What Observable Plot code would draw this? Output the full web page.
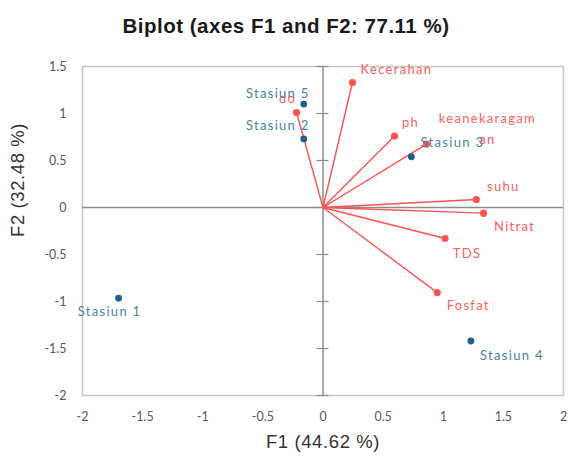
<!DOCTYPE html>
<html>
<head>
<meta charset="utf-8">
<script src="https://cdn.jsdelivr.net/npm/d3@7"></script>
<script src="https://cdn.jsdelivr.net/npm/@observablehq/plot@0.6"></script>
<style>
  html, body { margin: 0; padding: 0; background: #fff; }
  .lbl text { letter-spacing: 1.3px; }
  .ttl text { letter-spacing: 0.5px; }
  .axl text { letter-spacing: 0.6px; }
</style>
</head>
<body>
<div id="chart"></div>
<script>
// Active variables (loadings, red vectors)
const varNames = ["do", "Kecerahan", "ph", "keanekaragam\nan", "suhu", "Nitrat", "TDS", "Fosfat"];
const varF1 = [-0.22, 0.245, 0.595, 0.86, 1.275, 1.335, 1.015, 0.95];
const varF2 = [1.01, 1.33, 0.76, 0.675, 0.085, -0.06, -0.33, -0.905];

// Observations (blue points)
const obsNames = ["Stasiun 1", "Stasiun 2", "Stasiun 3", "Stasiun 4", "Stasiun 5"];
const obsF1 = [-1.70, -0.16, 0.735, 1.23, -0.16];
const obsF2 = [-0.965, 0.73, 0.54, -1.42, 1.10];

// Tick values
const xTicks = [-2, -1.5, -1, -0.5, 0, 0.5, 1, 1.5, 2];
const yTicks = [-2, -1.5, -1, -0.5, 0, 0.5, 1, 1.5];

const titleText = "Biplot (axes F1 and F2: 77.11 %)";
const xLabel = "F1 (44.62 %)";
const yLabel = "F2 (32.48 %)";

// label placement (layout only, pixels)
const labelOffset = {
  "do": [-9, -16],
  "Kecerahan": [44, -15],
  "ph": [16, -16],
  "keanekaragam\nan": [61, -17],
  "suhu": [27, -15],
  "Nitrat": [31, 11],
  "TDS": [22, 13],
  "Fosfat": [31, 11],
  "Stasiun 1": [-9, 11],
  "Stasiun 2": [-26, -16],
  "Stasiun 3": [41, -16],
  "Stasiun 4": [41, 12],
  "Stasiun 5": [-26, -13]
};

const vars = varNames.map((n, i) => ({name: n, x: varF1[i], y: varF2[i]}));
const obs = obsNames.map((n, i) => ({name: n, x: obsF1[i], y: obsF2[i]}));

const RED = "#ff5252";
const RED_TXT = "#ff5e5e";
const BLUE = "#1f5f8b";
const BLUE_TXT = "#4a82a8";
const fmt = d => String(d);

const labelMarks = (data, fill) =>
  data.map(d => Plot.text([d], {
    x: "x", y: "y", text: "name",
    dx: labelOffset[d.name][0], dy: labelOffset[d.name][1],
    fill, fontFamily: "Lato", fontSize: 13,
    lineHeight: 1.6, textAnchor: "middle", lineAnchor: "middle",
    className: "lbl"
  }));

const chart = Plot.plot({
  width: 570,
  height: 457,
  marginLeft: 82,
  marginRight: 7,
  marginTop: 66,
  marginBottom: 62,
  style: {fontFamily: "Lato", fontSize: "12px", color: "#595959", background: "#fff"},
  x: {domain: [-2, 2], ticks: xTicks, tickFormat: fmt},
  y: {domain: [-2, 1.5], ticks: yTicks, tickFormat: fmt},
  marks: [
    Plot.axisX({ticks: xTicks, tickFormat: fmt, tickSize: 0, tickPadding: 17, label: null, fill: "#595959", fontSize: 12.5}),
    Plot.axisY({ticks: yTicks, tickFormat: fmt, tickSize: 0, tickPadding: 16, label: null, fill: "#595959", fontSize: 12.5}),
    Plot.frame({stroke: "#c6c6c6", strokeWidth: 1.5}),
    Plot.ruleX([0], {stroke: "#8c8c8c", strokeWidth: 1.5}),
    Plot.ruleY([0], {stroke: "#8c8c8c", strokeWidth: 1.5}),
    Plot.ruleY(yTicks, {y: d => d, x1: 0, x2: 0, insetLeft: -6, insetRight: -6, stroke: "#8c8c8c", strokeWidth: 1.2}),
    Plot.link(vars, {x1: () => 0, y1: () => 0, x2: "x", y2: "y", stroke: RED, strokeWidth: 1.4}),
    Plot.dot(vars, {x: "x", y: "y", r: 3.6, fill: RED}),
    Plot.dot(obs, {x: "x", y: "y", r: 3.4, fill: BLUE}),
    ...labelMarks(vars, RED_TXT),
    ...labelMarks(obs, BLUE_TXT),
    Plot.text([titleText], {frameAnchor: "top", dx: -37, dy: -48, fontFamily: "Liberation Sans", fontWeight: "bold", fontSize: 20.5, fill: "#1a1a1a", className: "ttl"}),
    Plot.text([xLabel], {frameAnchor: "bottom", dy: 52, fontFamily: "Liberation Sans", fontSize: 18.5, fill: "#333", className: "axl"}),
    Plot.text([yLabel], {frameAnchor: "left", dx: -64, dy: 6, rotate: -90, fontFamily: "Liberation Sans", fontSize: 18.5, fill: "#333", className: "axl"})
  ]
});

document.getElementById("chart").appendChild(chart);
</script>
</body>
</html>
